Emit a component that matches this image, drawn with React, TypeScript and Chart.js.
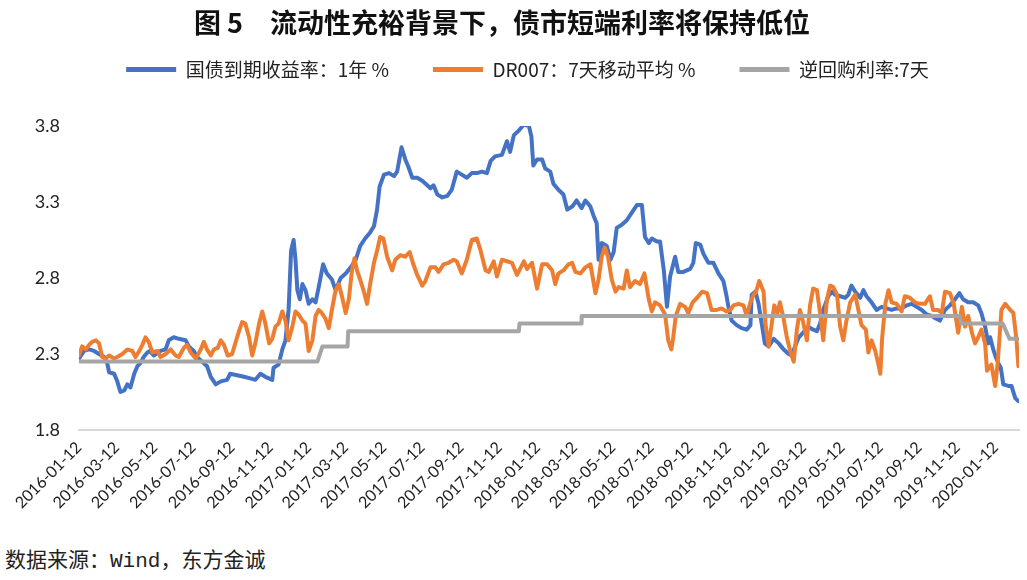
import React, { useEffect, useRef } from "react";
import { Chart, registerables } from "chart.js";

Chart.register(...registerables);

const chartTitle = "图 5　流动性充裕背景下，债市短端利率将保持低位";
const sourceNote = "数据来源：Wind，东方金诚";
const seriesNames = ["国债到期收益率：1年 %", "DR007：7天移动平均 %", "逆回购利率:7天"];
const seriesColors = ["#4472C4", "#ED7D31", "#A5A5A5"];

const axisStart = "2016-01-12";
const axisEnd = "2020-02-18";
const yTicks = [1.8, 2.3, 2.8, 3.3, 3.8];
const tickLabels = [
  "2016-01-12", "2016-03-12", "2016-05-12", "2016-07-12", "2016-09-12", "2016-11-12",
  "2017-01-12", "2017-03-12", "2017-05-12", "2017-07-12", "2017-09-12", "2017-11-12",
  "2018-01-12", "2018-03-12", "2018-05-12", "2018-07-12", "2018-09-12", "2018-11-12",
  "2019-01-12", "2019-03-12", "2019-05-12", "2019-07-12", "2019-09-12", "2019-11-12",
  "2020-01-12",
];

const bondDates = [
  "2016-01-12", "2016-01-20", "2016-01-28", "2016-02-05", "2016-02-13", "2016-02-21", "2016-02-26", "2016-02-29",
  "2016-03-08", "2016-03-13", "2016-03-18", "2016-03-24", "2016-03-29", "2016-04-03", "2016-04-09", "2016-04-14",
  "2016-04-19", "2016-04-24", "2016-04-30", "2016-05-04", "2016-05-10", "2016-05-21", "2016-05-29", "2016-06-03",
  "2016-06-11", "2016-06-19", "2016-06-30", "2016-07-05", "2016-07-13", "2016-07-18", "2016-07-26", "2016-08-03",
  "2016-08-09", "2016-08-17", "2016-08-25", "2016-09-04", "2016-09-09", "2016-09-20", "2016-10-01", "2016-10-11",
  "2016-10-19", "2016-10-27", "2016-11-04", "2016-11-15", "2016-11-17", "2016-11-25", "2016-12-01", "2016-12-06",
  "2016-12-11", "2016-12-15", "2016-12-19", "2016-12-22", "2016-12-25", "2016-12-29", "2017-01-02", "2017-01-07",
  "2017-01-12", "2017-01-18", "2017-01-23", "2017-01-28", "2017-02-04", "2017-02-10", "2017-02-18", "2017-02-24",
  "2017-03-04", "2017-03-12", "2017-03-20", "2017-03-28", "2017-04-04", "2017-04-12", "2017-04-20", "2017-04-26",
  "2017-05-01", "2017-05-05", "2017-05-12", "2017-05-20", "2017-05-28", "2017-06-02", "2017-06-09", "2017-06-15",
  "2017-06-20", "2017-06-26", "2017-07-04", "2017-07-12", "2017-07-20", "2017-07-25", "2017-07-30", "2017-08-05",
  "2017-08-13", "2017-08-21", "2017-08-28", "2017-09-05", "2017-09-13", "2017-09-21", "2017-09-29", "2017-10-07",
  "2017-10-15", "2017-10-23", "2017-10-29", "2017-11-05", "2017-11-16", "2017-11-24", "2017-11-29", "2017-12-05",
  "2017-12-13", "2017-12-21", "2017-12-29", "2018-01-02", "2018-01-05", "2018-01-11", "2018-01-19", "2018-01-24",
  "2018-02-01", "2018-02-06", "2018-02-14", "2018-02-22", "2018-02-28", "2018-03-08", "2018-03-15", "2018-03-23",
  "2018-03-29", "2018-04-06", "2018-04-11", "2018-04-16", "2018-04-19", "2018-04-24", "2018-05-02", "2018-05-08",
  "2018-05-13", "2018-05-18", "2018-05-26", "2018-06-03", "2018-06-11", "2018-06-19", "2018-06-27", "2018-07-02",
  "2018-07-08", "2018-07-13", "2018-07-21", "2018-07-26", "2018-08-01", "2018-08-06", "2018-08-11", "2018-08-19",
  "2018-08-24", "2018-09-01", "2018-09-12", "2018-09-17", "2018-09-21", "2018-09-28", "2018-10-03", "2018-10-11",
  "2018-10-19", "2018-10-27", "2018-11-04", "2018-11-09", "2018-11-12", "2018-11-17", "2018-11-25", "2018-12-03",
  "2018-12-11", "2018-12-17", "2018-12-19", "2018-12-25", "2018-12-30", "2019-01-04", "2019-01-09", "2019-01-15",
  "2019-01-23", "2019-01-31", "2019-02-08", "2019-02-16", "2019-02-21", "2019-02-26", "2019-03-04", "2019-03-11",
  "2019-03-19", "2019-03-27", "2019-04-02", "2019-04-07", "2019-04-12", "2019-04-20", "2019-04-26", "2019-05-01",
  "2019-05-09", "2019-05-17", "2019-05-22", "2019-05-27", "2019-06-02", "2019-06-10", "2019-06-15", "2019-06-20",
  "2019-06-28", "2019-07-06", "2019-07-14", "2019-07-22", "2019-07-30", "2019-08-07", "2019-08-15", "2019-08-23",
  "2019-08-31", "2019-09-08", "2019-09-16", "2019-09-24", "2019-10-02", "2019-10-10", "2019-10-15", "2019-10-23",
  "2019-10-31", "2019-11-08", "2019-11-15", "2019-11-21", "2019-11-29", "2019-12-07", "2019-12-15", "2019-12-20",
  "2019-12-26", "2019-12-31", "2020-01-03", "2020-01-08", "2020-01-12", "2020-01-16", "2020-01-20", "2020-01-24",
  "2020-02-01", "2020-02-06", "2020-02-12", "2020-02-17",
];
const bondValues = [
  2.27, 2.32, 2.33, 2.32, 2.30, 2.28, 2.24, 2.18,
  2.17, 2.12, 2.05, 2.06, 2.10, 2.08, 2.17, 2.22,
  2.24, 2.28, 2.31, 2.32, 2.29, 2.32, 2.33, 2.39,
  2.41, 2.40, 2.39, 2.35, 2.32, 2.28, 2.25, 2.22,
  2.15, 2.10, 2.12, 2.13, 2.17, 2.16, 2.15, 2.14,
  2.13, 2.17, 2.15, 2.13, 2.21, 2.23, 2.33, 2.39,
  2.59, 2.98, 3.05, 2.92, 2.72, 2.66, 2.76, 2.72,
  2.63, 2.66, 2.64, 2.74, 2.89, 2.83, 2.79, 2.72,
  2.80, 2.83, 2.87, 2.92, 3.01, 3.06, 3.10, 3.14,
  3.25, 3.40, 3.48, 3.49, 3.47, 3.50, 3.66, 3.58,
  3.53, 3.46, 3.46, 3.44, 3.41, 3.39, 3.41, 3.35,
  3.33, 3.34, 3.38, 3.50, 3.48, 3.46, 3.49, 3.49,
  3.50, 3.49, 3.57, 3.60, 3.61, 3.70, 3.63, 3.74,
  3.77, 3.81, 3.80, 3.73, 3.54, 3.58, 3.58, 3.52,
  3.50, 3.42, 3.38, 3.35, 3.25, 3.27, 3.31, 3.26,
  3.31, 3.27, 3.21, 3.16, 2.92, 3.03, 3.01, 2.92,
  2.97, 3.13, 3.15, 3.18, 3.23, 3.28, 3.28, 3.07,
  3.03, 3.06, 3.04, 3.04, 2.85, 2.61, 2.81, 2.94,
  2.84, 2.84, 2.86, 2.90, 3.03, 3.02, 2.96, 2.90,
  2.90, 2.83, 2.78, 2.68, 2.61, 2.52, 2.49, 2.47,
  2.46, 2.49, 2.69, 2.71, 2.63, 2.50, 2.37, 2.35,
  2.40, 2.37, 2.33, 2.30, 2.29, 2.35, 2.41, 2.44,
  2.48, 2.46, 2.45, 2.50, 2.59, 2.68, 2.71, 2.69,
  2.68, 2.67, 2.69, 2.75, 2.71, 2.67, 2.72, 2.68,
  2.64, 2.59, 2.61, 2.60, 2.59, 2.60, 2.60, 2.62,
  2.63, 2.61, 2.59, 2.56, 2.55, 2.53, 2.52, 2.59,
  2.62, 2.66, 2.70, 2.66, 2.64, 2.64, 2.62, 2.57,
  2.48, 2.37, 2.41, 2.33, 2.28, 2.24, 2.21, 2.10,
  2.09, 2.09, 2.01, 1.99,
];

const drDates = [
  "2016-01-12", "2016-01-17", "2016-01-23", "2016-01-28", "2016-02-02", "2016-02-08", "2016-02-13", "2016-02-18",
  "2016-02-23", "2016-02-29", "2016-03-08", "2016-03-13", "2016-03-21", "2016-03-29", "2016-04-06", "2016-04-11",
  "2016-04-17", "2016-04-22", "2016-04-27", "2016-05-02", "2016-05-08", "2016-05-16", "2016-05-21", "2016-05-29",
  "2016-06-06", "2016-06-14", "2016-06-19", "2016-06-27", "2016-07-02", "2016-07-08", "2016-07-16", "2016-07-24",
  "2016-07-29", "2016-08-03", "2016-08-09", "2016-08-14", "2016-08-20", "2016-08-25", "2016-08-30", "2016-09-05",
  "2016-09-12", "2016-09-17", "2016-09-23", "2016-09-28", "2016-10-03", "2016-10-09", "2016-10-14", "2016-10-19",
  "2016-10-25", "2016-10-30", "2016-11-04", "2016-11-10", "2016-11-15", "2016-11-20", "2016-11-25", "2016-12-01",
  "2016-12-06", "2016-12-11", "2016-12-17", "2016-12-22", "2016-12-27", "2017-01-02", "2017-01-07", "2017-01-12",
  "2017-01-18", "2017-01-23", "2017-01-28", "2017-02-02", "2017-02-08", "2017-02-13", "2017-02-18", "2017-02-24",
  "2017-03-01", "2017-03-06", "2017-03-12", "2017-03-17", "2017-03-22", "2017-03-26", "2017-03-30", "2017-04-04",
  "2017-04-10", "2017-04-15", "2017-04-20", "2017-04-26", "2017-05-01", "2017-05-06", "2017-05-11", "2017-05-17",
  "2017-05-25", "2017-05-30", "2017-06-07", "2017-06-15", "2017-06-22", "2017-06-27", "2017-07-04", "2017-07-12",
  "2017-07-17", "2017-07-25", "2017-08-02", "2017-08-07", "2017-08-15", "2017-08-23", "2017-08-31", "2017-09-05",
  "2017-09-13", "2017-09-21", "2017-09-29", "2017-10-07", "2017-10-13", "2017-10-21", "2017-10-26", "2017-11-03",
  "2017-11-08", "2017-11-16", "2017-11-24", "2017-12-02", "2017-12-10", "2017-12-21", "2017-12-26", "2018-01-03",
  "2018-01-11", "2018-01-19", "2018-01-27", "2018-02-04", "2018-02-09", "2018-02-14", "2018-02-22", "2018-03-02",
  "2018-03-08", "2018-03-13", "2018-03-21", "2018-03-29", "2018-04-06", "2018-04-14", "2018-04-19", "2018-04-24",
  "2018-04-29", "2018-05-04", "2018-05-10", "2018-05-16", "2018-05-21", "2018-05-29", "2018-06-03", "2018-06-08",
  "2018-06-16", "2018-06-24", "2018-07-01", "2018-07-08", "2018-07-13", "2018-07-18", "2018-07-26", "2018-08-03",
  "2018-08-08", "2018-08-13", "2018-08-16", "2018-08-20", "2018-08-27", "2018-09-04", "2018-09-09", "2018-09-16",
  "2018-09-23", "2018-10-01", "2018-10-09", "2018-10-16", "2018-10-24", "2018-11-01", "2018-11-09", "2018-11-15",
  "2018-11-20", "2018-11-28", "2018-12-06", "2018-12-11", "2018-12-17", "2018-12-22", "2018-12-26", "2018-12-31",
  "2019-01-07", "2019-01-10", "2019-01-15", "2019-01-20", "2019-01-24", "2019-01-29", "2019-02-02", "2019-02-08",
  "2019-02-13", "2019-02-19", "2019-02-24", "2019-03-01", "2019-03-06", "2019-03-11", "2019-03-17", "2019-03-22",
  "2019-03-27", "2019-04-02", "2019-04-07", "2019-04-12", "2019-04-18", "2019-04-23", "2019-04-28", "2019-05-04",
  "2019-05-09", "2019-05-14", "2019-05-19", "2019-05-25", "2019-06-02", "2019-06-07", "2019-06-12", "2019-06-19",
  "2019-06-23", "2019-06-28", "2019-07-04", "2019-07-09", "2019-07-12", "2019-07-15", "2019-07-20", "2019-07-25",
  "2019-07-30", "2019-08-07", "2019-08-15", "2019-08-20", "2019-08-28", "2019-09-05", "2019-09-13", "2019-09-21",
  "2019-09-29", "2019-10-04", "2019-10-12", "2019-10-18", "2019-10-23", "2019-10-31", "2019-11-06", "2019-11-13",
  "2019-11-19", "2019-11-24", "2019-11-29", "2019-12-05", "2019-12-10", "2019-12-15", "2019-12-20", "2019-12-26",
  "2019-12-29", "2020-01-05", "2020-01-11", "2020-01-15", "2020-01-18", "2020-01-21", "2020-01-27", "2020-02-04",
  "2020-02-09", "2020-02-14", "2020-02-17",
];
const drValues = [
  2.29, 2.35, 2.33, 2.36, 2.38, 2.39, 2.37, 2.28,
  2.27, 2.29, 2.27, 2.28, 2.30, 2.33, 2.32, 2.28,
  2.32, 2.36, 2.41, 2.38, 2.31, 2.32, 2.28, 2.30,
  2.33, 2.29, 2.28, 2.34, 2.36, 2.31, 2.27, 2.33,
  2.38, 2.33, 2.29, 2.33, 2.34, 2.39, 2.36, 2.29,
  2.30, 2.37, 2.45, 2.51, 2.50, 2.41, 2.29, 2.37,
  2.50, 2.58, 2.50, 2.37, 2.40, 2.48, 2.50, 2.58,
  2.52, 2.39, 2.48, 2.58, 2.56, 2.52, 2.50, 2.32,
  2.39, 2.55, 2.59, 2.57, 2.53, 2.47, 2.59, 2.72,
  2.76, 2.68, 2.57, 2.66, 2.85, 2.93, 2.85, 2.79,
  2.71, 2.63, 2.76, 2.90, 2.98, 3.07, 3.06, 2.94,
  2.85, 2.92, 2.95, 2.94, 2.97, 2.90, 2.82, 2.75,
  2.78, 2.87, 2.87, 2.84, 2.89, 2.90, 2.92, 2.91,
  2.83, 2.92, 3.05, 3.06, 2.98, 2.85, 2.84, 2.91,
  2.81, 2.92, 2.91, 2.90, 2.82, 2.91, 2.86, 2.90,
  2.73, 2.89, 2.89, 2.85, 2.76, 2.83, 2.85, 2.89,
  2.90, 2.84, 2.83, 2.87, 2.89, 2.70, 2.79, 2.94,
  3.00, 2.94, 2.79, 2.71, 2.74, 2.73, 2.85, 2.74,
  2.78, 2.76, 2.83, 2.66, 2.58, 2.64, 2.62, 2.56,
  2.39, 2.33, 2.41, 2.55, 2.63, 2.61, 2.57, 2.64,
  2.67, 2.71, 2.70, 2.59, 2.59, 2.60, 2.58, 2.59,
  2.62, 2.63, 2.62, 2.55, 2.64, 2.69, 2.71, 2.78,
  2.71, 2.50, 2.35, 2.50, 2.62, 2.57, 2.64, 2.53,
  2.41, 2.31, 2.25, 2.46, 2.59, 2.51, 2.39, 2.62,
  2.73, 2.72, 2.57, 2.39, 2.66, 2.75, 2.74, 2.69,
  2.48, 2.39, 2.52, 2.64, 2.69, 2.59, 2.49, 2.46,
  2.31, 2.39, 2.32, 2.23, 2.17, 2.41, 2.63, 2.72,
  2.64, 2.63, 2.58, 2.68, 2.67, 2.64, 2.63, 2.63,
  2.68, 2.59, 2.59, 2.57, 2.71, 2.70, 2.63, 2.44,
  2.61, 2.48, 2.55, 2.44, 2.37, 2.41, 2.46, 2.37,
  2.19, 2.23, 2.09, 2.24, 2.41, 2.59, 2.63, 2.59,
  2.57, 2.39, 2.22,
];

const repoDates = [
  "2016-01-12", "2017-01-26", "2017-02-03", "2017-03-15", "2017-03-16", "2017-12-13", "2017-12-14",
  "2018-03-22", "2018-03-23", "2019-11-15", "2019-11-18", "2020-01-23", "2020-02-03", "2020-02-17",
];
const repoValues = [2.25, 2.25, 2.35, 2.35, 2.45, 2.45, 2.5, 2.5, 2.55, 2.55, 2.5, 2.5, 2.4, 2.4];

const dayOf = (s: string) => {
  const [y, m, d] = s.split("-").map(Number);
  const [y0, m0, d0] = axisStart.split("-").map(Number);
  return (Date.UTC(y, m - 1, d) - Date.UTC(y0, m0 - 1, d0)) / 86400000;
};
const toPoints = (dates: string[], values: number[]) => dates.map((d, i) => ({ x: dayOf(d), y: values[i] }));

const tickFont = "Lato, 'Noto Sans', sans-serif";
const cjkFont = "'Noto Sans CJK SC', 'Noto Sans', sans-serif";

export default function App() {
  const canvasRef = useRef<HTMLCanvasElement | null>(null);

  useEffect(() => {
    document.body.style.margin = "0";
    const canvas = canvasRef.current;
    if (!canvas) return;
    const seriesData = [
      toPoints(bondDates, bondValues),
      toPoints(drDates, drValues),
      toPoints(repoDates, repoValues),
    ];
    const tickDays = tickLabels.map(dayOf);

    const legendAdjust = {
      id: "legendAdjust",
      beforeInit(chart: any) {
        const originalFit = chart.legend.fit;
        chart.legend.fit = function fit() {
          originalFit.bind(chart.legend)();
          this.height += 37;
        };
      },
      afterLayout(chart: any) {
        if (chart.legend) {
          chart.legend.left += 18;
          chart.legend.right += 18;
        }
      },
    };

    const chart = new Chart(canvas, {
      type: "line",
      data: {
        datasets: seriesNames.map((name, i) => ({
          label: name,
          data: seriesData[i],
          borderColor: seriesColors[i],
          backgroundColor: seriesColors[i],
          borderWidth: 4,
          borderJoinStyle: "round",
          borderCapStyle: "round",
          pointRadius: 0,
          pointHoverRadius: 0,
          tension: 0,
          fill: false,
          order: 3 - i,
        })),
      },
      options: {
        animation: false,
        responsive: false,
        devicePixelRatio: 1,
        layout: { padding: { left: 0, right: 8, top: 16, bottom: 0 } },
        plugins: {
          title: { display: false },
          tooltip: { enabled: false },
          legend: {
            display: true,
            position: "top",
            labels: {
              boxWidth: 50,
              boxHeight: 5,
              padding: 44,
              color: "#222",
              font: { family: cjkFont, size: 19 },
              sort: (a: any, b: any) => a.datasetIndex - b.datasetIndex,
              generateLabels: (ch: any) =>
                Chart.defaults.plugins.legend.labels
                  .generateLabels(ch)
                  .map((it: any) => ({ ...it, lineWidth: 0, fillStyle: it.strokeStyle })),
            },
          },
        },
        scales: {
          x: {
            type: "linear",
            min: 0,
            max: dayOf(axisEnd),
            offset: false,
            grid: { display: false, drawTicks: false },
            border: { display: true, color: "#D9D9D9", width: 2 },
            afterBuildTicks: (scale: any) => {
              scale.ticks = tickDays.map((v) => ({ value: v }));
            },
            afterFit: (scale: any) => {
              scale.height = 110;
            },
            ticks: {
              autoSkip: false,
              minRotation: 45,
              maxRotation: 45,
              padding: 8,
              color: "#222",
              font: { family: tickFont, size: 16 },
              callback: (_v: any, index: number) => tickLabels[index],
            },
          },
          y: {
            type: "linear",
            min: yTicks[0],
            max: yTicks[yTicks.length - 1],
            grid: { display: false, drawTicks: false },
            border: { display: false },
            afterBuildTicks: (scale: any) => {
              scale.ticks = yTicks.map((v) => ({ value: v }));
            },
            afterFit: (scale: any) => {
              scale.width = 79;
            },
            ticks: {
              padding: 19,
              color: "#222",
              font: { family: tickFont, size: 18 },
              callback: (v: any) => Number(v).toFixed(1),
            },
          },
        },
      },
      plugins: [legendAdjust],
    } as any);

    return () => chart.destroy();
  }, []);

  return (
    <div style={{ position: "absolute", left: 0, top: 0, width: 1027, height: 580, background: "#fff", overflow: "hidden" }}>
      <canvas ref={canvasRef} width={1027} height={540} style={{ position: "absolute", left: 0, top: 0 }} />
      <div
        style={{
          position: "absolute",
          left: 0,
          top: 5,
          width: 1004,
          textAlign: "center",
          fontFamily: cjkFont,
          fontWeight: 700,
          fontSize: 27,
          lineHeight: "34px",
          color: "#111",
          whiteSpace: "nowrap",
        }}
      >
        {chartTitle}
      </div>
      <div
        style={{
          position: "absolute",
          left: 5,
          top: 548,
          fontFamily: "'Liberation Mono', 'Noto Sans CJK SC', monospace",
          fontSize: 21,
          lineHeight: "28px",
          color: "#222",
          whiteSpace: "nowrap",
        }}
      >
        {sourceNote}
      </div>
    </div>
  );
}
